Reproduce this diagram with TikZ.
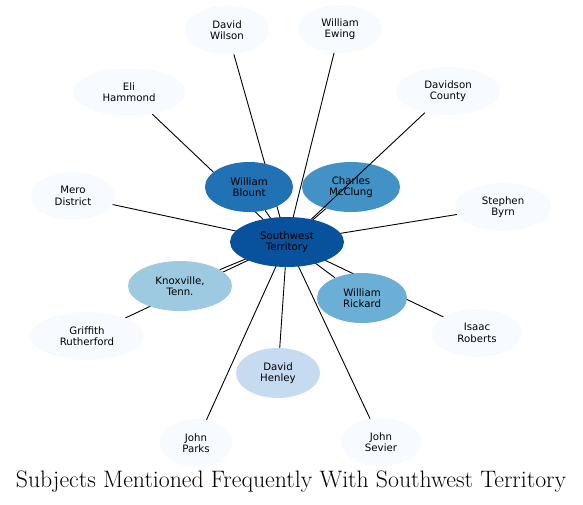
\documentclass[tikz,border=0pt]{standalone}
\usepackage{fontspec}
\newfontfamily\nodefont{DejaVu Sans}
\usetikzlibrary{shapes.geometric,backgrounds}
\pgfdeclarelayer{front}
\pgfsetlayers{background,main,front}
\definecolor{c0}{HTML}{F7FBFF}
\definecolor{c1}{HTML}{08519C}
\definecolor{c2}{HTML}{2171B5}
\definecolor{c3}{HTML}{4292C6}
\definecolor{c4}{HTML}{9ECAE1}
\definecolor{c5}{HTML}{6BAED6}
\definecolor{c6}{HTML}{C6DBEF}
\tikzset{
  ent/.style={ellipse, draw=none, fill=#1, font=\nodefont\fontsize{10.2}{11.6}\selectfont, align=center, inner sep=0pt},
  link/.style={draw=black, line width=0.9pt}
}
\begin{document}
\begin{tikzpicture}[x=1pt,y=-1pt]
\useasboundingbox (0,0) rectangle (583,504);
\node[ent=c0, minimum width=84pt, minimum height=49pt] (wilson) at (227,30) {David\\Wilson};
\node[ent=c0, minimum width=84pt, minimum height=48pt] (ewing) at (340,29) {William\\Ewing};
\node[ent=c0, minimum width=112pt, minimum height=48pt] (hammond) at (129,92) {Eli\\Hammond};
\node[ent=c0, minimum width=104pt, minimum height=48pt] (davidson) at (448,91) {Davidson\\County};
\node[ent=c0, minimum width=84pt, minimum height=48pt] (mero) at (73,196) {Mero\\District};
\node[ent=c0, minimum width=96pt, minimum height=48pt] (byrn) at (503,207) {Stephen\\Byrn};
\node[ent=c0, minimum width=114pt, minimum height=48pt] (griffith) at (87,336) {Griffith\\Rutherford};
\node[ent=c0, minimum width=90pt, minimum height=48pt] (isaac) at (477,333) {Isaac\\Roberts};
\node[ent=c0, minimum width=72pt, minimum height=48pt] (parks) at (196,443) {John\\Parks};
\node[ent=c0, minimum width=80pt, minimum height=48pt] (sevier) at (381,442) {John\\Sevier};
\node[ent=c2, minimum width=88pt, minimum height=50pt] (blount) at (249,187) {William\\Blount};
\node[ent=c3, minimum width=98pt, minimum height=50pt] (mcclung) at (351,187) {Charles\\McClung};
\node[ent=c1, minimum width=114pt, minimum height=50pt] (sw) at (287,242) {Southwest\\Territory};
\node[ent=c4, minimum width=104pt, minimum height=50pt] (knox) at (180,286) {Knoxville,\\Tenn.};
\node[ent=c5, minimum width=90pt, minimum height=50pt] (rickard) at (362,298) {William\\Rickard};
\node[ent=c6, minimum width=84pt, minimum height=50pt] (henley) at (278,373) {David\\Henley};
\begin{pgfonlayer}{background}
\foreach \n in {wilson,ewing,hammond,mero,byrn,griffith,isaac,parks,sevier,blount,mcclung,knox,rickard,henley}
  \draw[link] (sw.center) -- (\n);
\end{pgfonlayer}
\begin{pgfonlayer}{front}
\draw[link] (sw) -- (davidson);
\end{pgfonlayer}
\node[font=\fontsize{23.8}{26}\selectfont] (title) at (291,482) {Subjects Mentioned Frequently With Southwest Territory};
\end{tikzpicture}
\end{document}
